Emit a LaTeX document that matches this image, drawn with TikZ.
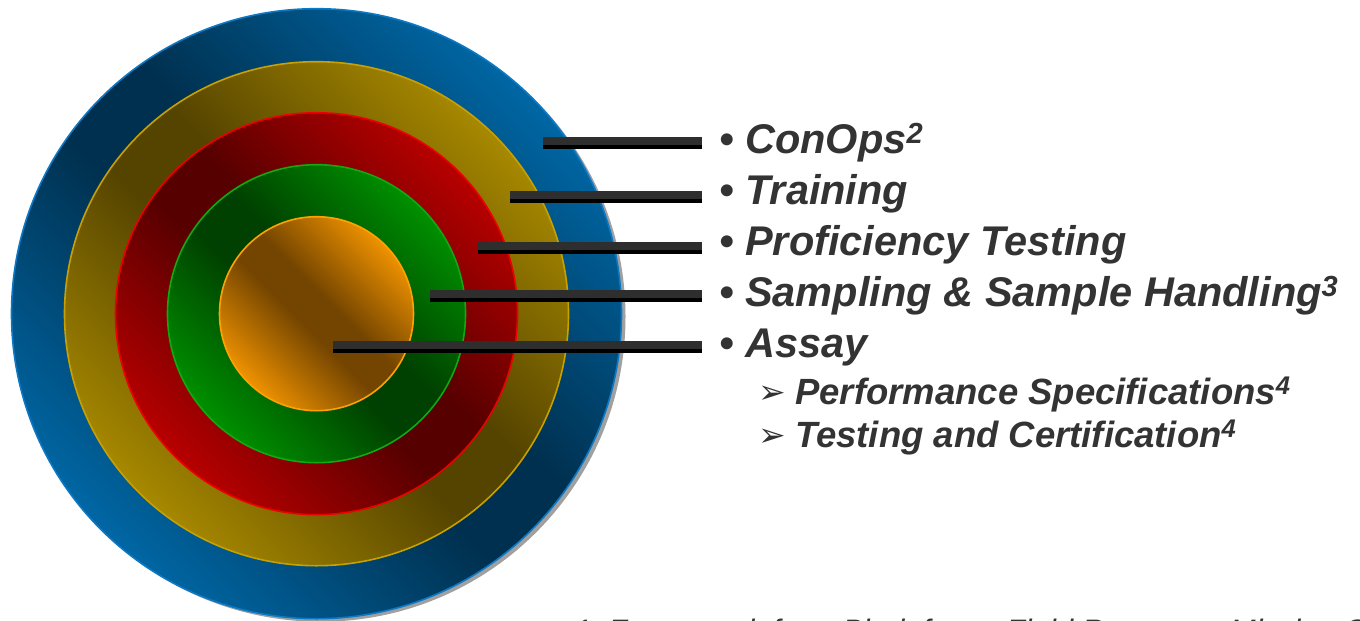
\documentclass[tikz,border=0pt]{standalone}
\usepackage{fontspec}
\setmainfont{Liberation Sans}
\newfontfamily\symfont{DejaVu Sans}
\usetikzlibrary{calc}

% ring colours: light rim tone, dark diagonal tone, edge line
\definecolor{blueL}{HTML}{0068A6}
\definecolor{blueD}{HTML}{00304F}
\definecolor{blueE}{HTML}{0B79C6}
\definecolor{goldL}{HTML}{A98A00}
\definecolor{goldD}{HTML}{554400}
\definecolor{goldE}{HTML}{C8A000}
\definecolor{redL}{HTML}{BA0000}
\definecolor{redD}{HTML}{570000}
\definecolor{redE}{HTML}{EE0000}
\definecolor{grnL}{HTML}{009200}
\definecolor{grnD}{HTML}{004000}
\definecolor{grnE}{HTML}{12A812}
\definecolor{orgL}{HTML}{F29400}
\definecolor{orgD}{HTML}{744500}
\definecolor{orgE}{HTML}{FFA200}
\definecolor{ink}{HTML}{333333}
\definecolor{barhi}{HTML}{2E2E2E}
\definecolor{shadowgray}{HTML}{A0A0A0}

% dark band along the middle, light towards both ends of the axis;
% the shaded square spans 25bp..75bp, so the disc edge sits near 32bp/68bp
\newcommand\ringshading[3]{%
  \pgfdeclareverticalshading{#1}{100bp}{color(0bp)=(#2); color(32bp)=(#2);
    color(47bp)=(#3); color(53bp)=(#3); color(68bp)=(#2); color(100bp)=(#2)}}
\ringshading{ringblue}{blueL}{blueD}
\ringshading{ringgold}{goldL}{goldD}
\ringshading{ringred}{redL}{redD}
\ringshading{ringgreen}{grnL}{grnD}
\ringshading{ringorange}{orgL}{orgD}

% one shaded disc: radius, shading, edge colour
\newcommand\shadeddisc[3]{%
  \begin{scope}
    \clip (c) circle[radius=#1];
    \begin{scope}[transform canvas={rotate around={-45:(c)}}]
      \shade[shading=#2] ($(c)+(-1.4142*#1,-1.4142*#1)$) rectangle ($(c)+(1.4142*#1,1.4142*#1)$);
    \end{scope}
  \end{scope}
  \draw[draw=#3, line width=1.6pt] (c) circle[radius=#1];
}

\begin{document}
\begin{tikzpicture}[x=1pt,y=-1pt,
  barlow/.style={draw=black, line width=12pt},
  barhigh/.style={draw=barhi, line width=8pt},
  item/.style={anchor=base west, inner sep=0pt, text=ink,
    font=\fontsize{41.5}{48}\selectfont\bfseries\itshape},
  subitem/.style={anchor=base west, inner sep=0pt, text=ink,
    font=\fontsize{36.5}{42}\selectfont\bfseries\itshape},
  note/.style={anchor=base west, inner sep=0pt, text=ink,
    font=\fontsize{31}{36}\selectfont\itshape}]
\useasboundingbox (0,0) rectangle (1360,621);

% target rings
\coordinate (c) at (316.5,313.7);
\fill[shadowgray] ($(c)+(4,3)$) circle[radius=305];
\shadeddisc{305}{ringblue}{blueE}
\shadeddisc{252}{ringgold}{goldE}
\shadeddisc{201}{ringred}{redE}
\shadeddisc{149}{ringgreen}{grnE}
\shadeddisc{97}{ringorange}{orgE}

% leader bars: start inside each ring, end before the list
\coordinate (s1) at (543,143);  \coordinate (t1) at (702,143);
\coordinate (s2) at (510,197);  \coordinate (t2) at (702,197);
\coordinate (s3) at (478,248);  \coordinate (t3) at (702,248);
\coordinate (s4) at (430,296);  \coordinate (t4) at (702,296);
\coordinate (s5) at (333,347);  \coordinate (t5) at (702,347);
\foreach \k in {1,...,5}{
  \draw[barlow] (s\k) -- (t\k);
  \draw[barhigh] ($(s\k)+(0,-2)$) -- ($(t\k)+(0,-2)$);
}

% list of layers
\node[item] (i1) at (719,153) {• ConOps\textsuperscript{2}};
\node[item] (i2) at (719,204) {• Training};
\node[item] (i3) at (719,255) {• Proficiency Testing};
\node[item] (i4) at (719,306) {• Sampling \& Sample Handling\textsuperscript{3}};
\node[item] (i5) at (719,357) {• Assay};
\node[subitem] (p1) at (758,404) {\makebox[37pt][l]{\raisebox{1pt}{\symfont\fontsize{33}{33}\selectfont\mdseries\upshape ➢}}Performance Specifications\textsuperscript{4}};
\node[subitem] (p2) at (758,447) {\makebox[37pt][l]{\raisebox{1pt}{\symfont\fontsize{33}{33}\selectfont\mdseries\upshape ➢}}Testing and Certification\textsuperscript{4}};

% footnote, running off the lower edge
\node[note] (n1) at (574,641) {1.\hspace{8pt}Framework for a Biodefense Field Response Mission C};
\end{tikzpicture}
\end{document}
